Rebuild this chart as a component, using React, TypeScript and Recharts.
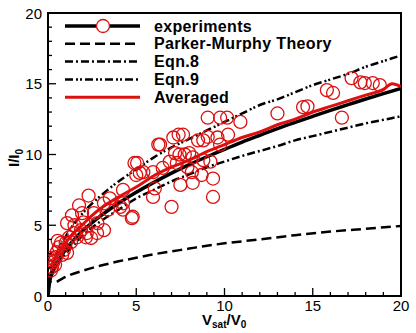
import React from 'react';
import { ComposedChart, Line, Scatter, XAxis, YAxis, ReferenceArea } from 'recharts';

const RED = '#dd1010';
const FONT = '"Liberation Sans", Arial, sans-serif';

// plot box (chart coords)
const PLOT_TOP = 13;
const PLOT_BOTTOM = 296;
const PLOT_LEFT = 48;

const axisTicks = Array.from({ length: 21 }, (_, i) => i);

// measured points (V_sat/V_0, I/I_0)
const experimentPoints: [number, number][] = [
  [0.06, 2.7], [0.17, 1.8], [0.23, 2.05], [0.3, 2.4], [0.45, 2.75], [0.5, 3.1], [0.62, 3.45],
  [0.73, 3.75], [0.9, 3.25], [1.0, 3.75], [1.08, 3.05], [1.2, 4.15], [1.3, 3.8], [1.08, 5.15],
  [1.36, 5.7], [1.47, 4.45], [0.4, 2.2], [0.8, 2.9], [0.2, 2.5], [0.55, 3.9],
  [1.64, 4.15], [1.76, 6.4], [1.87, 4.65], [1.93, 5.85], [2.15, 4.15], [2.3, 7.1], [2.2, 4.45],
  [2.44, 4.1], [2.6, 5.85], [2.78, 4.45], [3.17, 4.65], [3.17, 6.55], [4.1, 6.3], [2.8, 5.15],
  [3.4, 6.1], [4.25, 7.5], [4.25, 6.55], [4.25, 6.1], [4.75, 5.5], [4.9, 9.4], [5.0, 8.55],
  [5.4, 8.75], [6.05, 7.6], [5.95, 7.0], [7.0, 6.3], [7.5, 7.85], [8.2, 8.0], [8.15, 8.75],
  [8.7, 8.55], [7.9, 9.1], [7.3, 9.4], [6.5, 9.05], [9.35, 7.0], [9.35, 8.3], [8.8, 9.6],
  [9.2, 9.5], [8.2, 9.8], [7.2, 10.1], [7.45, 10.0], [7.75, 10.0], [8.0, 10.1], [6.35, 10.7],
  [7.4, 11.4], [7.65, 11.4], [8.5, 11.0], [8.8, 11.0], [9.05, 11.25], [9.75, 10.7], [10.2, 11.4],
  [9.05, 12.6], [9.75, 12.6], [10.15, 12.6], [10.9, 12.3], [13.0, 12.9], [14.45, 13.35],
  [14.7, 13.4], [15.8, 14.55], [16.15, 14.35], [17.2, 15.4], [17.7, 15.1], [17.95, 15.05],
  [18.4, 15.05], [18.8, 14.9], [16.65, 12.6], [9.6, 11.2], [6.25, 10.7], [6.9, 9.5], [7.1, 11.2],
  [5.05, 9.4], [5.2, 8.7], [5.95, 8.75], [4.8, 5.6], [2.0, 5.2], [1.5, 5.0], [3.5, 6.9],
];

// fitted curve through the experiments (black solid)
const fitX = [0, 0.1, 0.25, 0.5, 1, 1.5, 2, 3, 4, 5, 6, 7, 8, 9, 10, 11, 12, 13, 14, 15, 16, 17, 18, 19, 20];
const fitY = [0, 1.04, 1.64, 2.32, 3.28, 4.02, 4.64, 5.68, 6.56, 7.33, 8.03, 8.68, 9.28, 9.84, 10.37, 10.88, 11.36, 11.83, 12.27, 12.7, 13.12, 13.52, 13.92, 14.3, 14.67];

// Parker-Murphy theory (dashed)
const pmX = [0.5, 1, 2, 3, 4, 5, 6, 7, 8, 9, 10, 12, 14, 16, 18, 20];
const pmY = [1.0, 1.35, 1.8, 2.15, 2.45, 2.7, 2.95, 3.15, 3.35, 3.55, 3.72, 4.0, 4.3, 4.55, 4.75, 4.95];

// Eqn.8 (dash-dot) and Eqn.9 (dash-dot-dot)
const eqnX = [0.1, 0.5, 1, 2, 3, 4, 5, 6, 7, 8, 9, 10, 11, 12, 13, 14, 15, 16, 17, 18, 19, 20];
const eqn8Y = [1.2, 2.3, 3.0, 4.3, 5.3, 6.1, 6.9, 7.5, 8.1, 8.6, 9.1, 9.5, 9.9, 10.25, 10.6, 11.0, 11.3, 11.6, 11.9, 12.2, 12.45, 12.7];
const eqn9Y = [1.3, 3.0, 4.2, 5.9, 7.1, 8.1, 8.95, 9.8, 10.5, 11.1, 11.7, 12.3, 12.9, 13.5, 13.9, 14.4, 14.9, 15.3, 15.7, 16.2, 16.6, 17.0];

// averaged experiments (red)
const avgX = [0.15, 0.3, 0.5, 0.75, 1, 1.5, 2, 2.5, 3, 4, 5, 6, 7, 8, 9, 10, 11, 12, 13, 14, 15, 16, 17, 18, 19, 19.5, 20];
const avgY = [2.0, 2.4, 2.8, 3.3, 3.75, 4.5, 5.1, 5.7, 6.2, 7.0, 7.7, 8.5, 9.1, 9.6, 10.2, 10.7, 11.2, 11.6, 12.1, 12.5, 13.0, 13.4, 13.8, 14.2, 14.6, 15.0, 14.8];

const toRows = (xs: number[], ys: number[]) => xs.map((x, i) => ({ x, y: ys[i] }));

const scatterData = experimentPoints.map(([x, y]) => ({ x, y }));
const fitData = toRows(fitX, fitY);
const pmData = toRows(pmX, pmY);
const eqn8Data = toRows(eqnX, eqn8Y);
const eqn9Data = toRows(eqnX, eqn9Y);
const avgData = toRows(avgX, avgY);

const DASH_PM = '10 5';
const DASH_8 = '8 3 2 3';
const DASH_9 = '8 3 2 2 2 3';

const XTick = (props: any) => {
  const { x, payload } = props;
  const v = payload.value;
  const major = v % 5 === 0;
  return (
    <g>
      <line x1={x} x2={x} y1={PLOT_BOTTOM} y2={PLOT_BOTTOM - (major ? 8 : 4)} stroke="#000" strokeWidth={1.3} />
      {major && (
        <text x={x} y={PLOT_BOTTOM + 15} textAnchor="middle" fontSize={15} fontFamily={FONT} fill="#000">
          {v}
        </text>
      )}
    </g>
  );
};

const YTick = (props: any) => {
  const { y, payload } = props;
  const v = payload.value;
  const major = v % 5 === 0;
  return (
    <g>
      <line x1={PLOT_LEFT} x2={PLOT_LEFT + (major ? 8 : 4)} y1={y} y2={y} stroke="#000" strokeWidth={1.3} />
      {major && (
        <text x={PLOT_LEFT - 6} y={y + 5.5} textAnchor="end" fontSize={15} fontFamily={FONT} fill="#000">
          {v}
        </text>
      )}
    </g>
  );
};

const OpenCircle = (props: any) => {
  const { cx, cy } = props;
  return <circle cx={cx} cy={cy} r={6.5} fill="none" stroke={RED} strokeWidth={1.3} />;
};

const legendItems = [
  { label: 'experiments', stroke: '#000', width: 3.5, dash: undefined, marker: true },
  { label: 'Parker-Murphy Theory', stroke: '#000', width: 2.5, dash: DASH_PM, marker: false },
  { label: 'Eqn.8', stroke: '#000', width: 2.5, dash: DASH_8, marker: false },
  { label: 'Eqn.9', stroke: '#000', width: 2.5, dash: DASH_9, marker: false },
  { label: 'Averaged', stroke: RED, width: 3, dash: undefined, marker: false },
];

export default function App() {
  return (
    <div style={{ position: 'absolute', left: 0, top: 0, width: 416, height: 333, background: '#fff' }}>
      <ComposedChart width={416} height={333} margin={{ top: PLOT_TOP, right: 15, left: 0, bottom: 0 }}>
        <XAxis
          type="number"
          dataKey="x"
          domain={[0, 20]}
          ticks={axisTicks}
          interval={0}
          height={37}
          axisLine={false}
          tickLine={false}
          tick={<XTick />}
          allowDataOverflow
        />
        <YAxis
          type="number"
          dataKey="y"
          domain={[0, 20]}
          ticks={axisTicks}
          interval={0}
          width={48}
          axisLine={false}
          tickLine={false}
          tick={<YTick />}
          allowDataOverflow
        />
        <Line data={pmData} dataKey="y" type="monotone" stroke="#000" strokeWidth={2.5} strokeDasharray={DASH_PM} dot={false} isAnimationActive={false} />
        <Line data={eqn8Data} dataKey="y" type="monotone" stroke="#000" strokeWidth={2.5} strokeDasharray={DASH_8} dot={false} isAnimationActive={false} />
        <Line data={eqn9Data} dataKey="y" type="monotone" stroke="#000" strokeWidth={2.5} strokeDasharray={DASH_9} dot={false} isAnimationActive={false} />
        <Line data={fitData} dataKey="y" type="monotone" stroke="#000" strokeWidth={3.5} dot={false} isAnimationActive={false} />
        <Scatter data={scatterData} dataKey="y" shape={<OpenCircle />} isAnimationActive={false} />
        <Line data={avgData} dataKey="y" type="monotone" stroke={RED} strokeWidth={3} dot={false} isAnimationActive={false} />
        <ReferenceArea x1={0} x2={20} y1={0} y2={20} fill="none" stroke="#000" strokeWidth={2} ifOverflow="visible" />
      </ComposedChart>
      <svg width={416} height={333} style={{ position: 'absolute', left: 0, top: 0, pointerEvents: 'none' }}>
        {legendItems.map((item, i) => {
          const y = 26 + i * 17.8;
          return (
            <g key={item.label}>
              <line x1={65} x2={140} y1={y} y2={y} stroke={item.stroke} strokeWidth={item.width} strokeDasharray={item.dash} />
              {item.marker && <circle cx={103} cy={y} r={6.5} fill="#fff" stroke={RED} strokeWidth={1.3} />}
              <text x={154} y={y + 5.5} fontSize={16} letterSpacing={0.35} fontWeight="bold" fontFamily={FONT} fill="#000">
                {item.label}
              </text>
            </g>
          );
        })}
        <text transform="translate(19,158) rotate(-90)" textAnchor="middle" fontSize={15} fontWeight="bold" fontFamily={FONT} fill="#000">
          I/I<tspan fontSize={10} dy={4}>0</tspan>
        </text>
        <text x={202} y={325} fontSize={15} fontWeight="bold" fontFamily={FONT} fill="#000">
          V<tspan fontSize={10} dy={3}>sat</tspan>
          <tspan dy={-3}>/V</tspan>
          <tspan fontSize={10} dy={3}>0</tspan>
        </text>
      </svg>
    </div>
  );
}
